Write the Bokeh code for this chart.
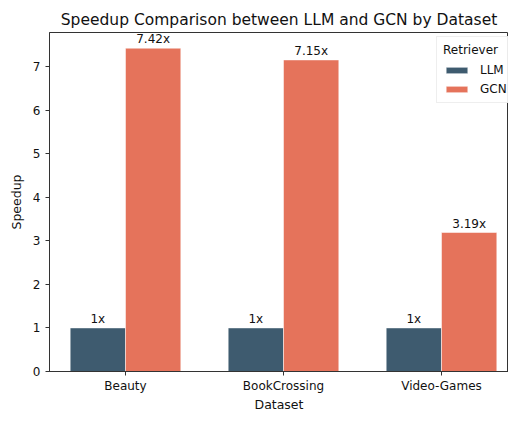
import numpy as np
from bokeh.plotting import figure
from bokeh.models import Range1d, FixedTicker, Legend, LegendItem, ColumnDataSource
from bokeh.core.properties import value
from bokeh.embed import file_html
from bokeh.resources import INLINE

datasets = ["Beauty", "BookCrossing", "Video-Games"]
llm_speedup = [1.0, 1.0, 1.0]
gcn_speedup = [7.42, 7.15, 3.19]
series_names = ["LLM", "GCN"]
y_ticks = [0, 1, 2, 3, 4, 5, 6, 7]

LLM_COLOR = "#3e5b6f"
GCN_COLOR = "#e5735b"
FONT = "DejaVu Sans"
TXT = "#111111"
bar_w = 0.35

x = np.arange(len(datasets))

p = figure(width=508, height=414, output_backend="svg", toolbar_location=None,
           x_range=Range1d(-0.481, 2.424), y_range=Range1d(0, 7.78),
           min_border_left=49, min_border_right=0, min_border_bottom=30, min_border_top=32)

p.title.text = "Speedup Comparison between LLM and GCN by Dataset"
p.title.align = "center"
p.title.text_font = FONT
p.title.text_font_size = "15.5px"
p.title.text_font_style = "normal"
p.title.text_color = TXT
p.title.standoff = 7

p.xgrid.visible = False
p.ygrid.visible = False
p.outline_line_color = "#333333"
p.outline_line_width = 1
p.background_fill_color = "white"
p.border_fill_color = "white"

src_llm = ColumnDataSource(dict(x=x - bar_w / 2, top=llm_speedup,
                                lab=[f"{v:g}x" for v in llm_speedup]))
src_gcn = ColumnDataSource(dict(x=x + bar_w / 2, top=gcn_speedup,
                                lab=[f"{v:g}x" for v in gcn_speedup]))

r_llm = p.vbar(x="x", top="top", width=bar_w, bottom=0, source=src_llm,
               fill_color=LLM_COLOR, line_color="white", line_width=0.5)
r_gcn = p.vbar(x="x", top="top", width=bar_w, bottom=0, source=src_gcn,
               fill_color=GCN_COLOR, line_color="white", line_width=0.5)

for src in (src_llm, src_gcn):
    p.text(x="x", y="top", text="lab", source=src, text_align="center",
           text_baseline="bottom", y_offset=-2, text_font=value(FONT),
           text_font_size="12px", text_color=TXT)

for ax in (p.xaxis[0], p.yaxis[0]):
    ax.axis_line_color = "#333333"
    ax.major_tick_line_color = "#333333"
    ax.major_tick_out = 4
    ax.major_tick_in = 0
    ax.minor_tick_line_color = None
    ax.major_label_text_font = FONT
    ax.major_label_text_font_size = "12px"
    ax.major_label_text_color = TXT
    ax.axis_label_text_font = FONT
    ax.axis_label_text_font_size = "12.5px"
    ax.axis_label_text_font_style = "normal"
    ax.axis_label_text_color = TXT

p.xaxis.ticker = FixedTicker(ticks=list(x))
p.xaxis.major_label_overrides = {int(i): d for i, d in zip(x, datasets)}
p.xaxis.axis_label = "Dataset"
p.xaxis.axis_label_standoff = 1
p.xaxis.major_label_standoff = 3
p.yaxis.ticker = FixedTicker(ticks=y_ticks)
p.yaxis.axis_label = "Speedup"
p.yaxis.axis_label_standoff = 6
p.yaxis.major_label_standoff = 5

legend = Legend(items=[LegendItem(label=series_names[0], renderers=[r_llm]),
                       LegendItem(label=series_names[1], renderers=[r_gcn])],
                location=(387, 268), title="Retriever")
legend.title_text_font = FONT
legend.title_text_font_size = "12px"
legend.title_text_font_style = "normal"
legend.title_text_color = TXT
legend.title_standoff = 6
legend.label_text_font = FONT
legend.label_text_font_size = "12px"
legend.label_text_color = TXT
legend.glyph_width = 27
legend.glyph_height = 8
legend.label_standoff = 10
legend.spacing = 5
legend.padding = 6
legend.margin = 0
legend.border_line_color = "#dddddd"
legend.border_line_width = 1
legend.background_fill_alpha = 0.9
legend.label_height = 14
p.add_layout(legend)

open("out.html", "w").write(file_html(p, INLINE))
